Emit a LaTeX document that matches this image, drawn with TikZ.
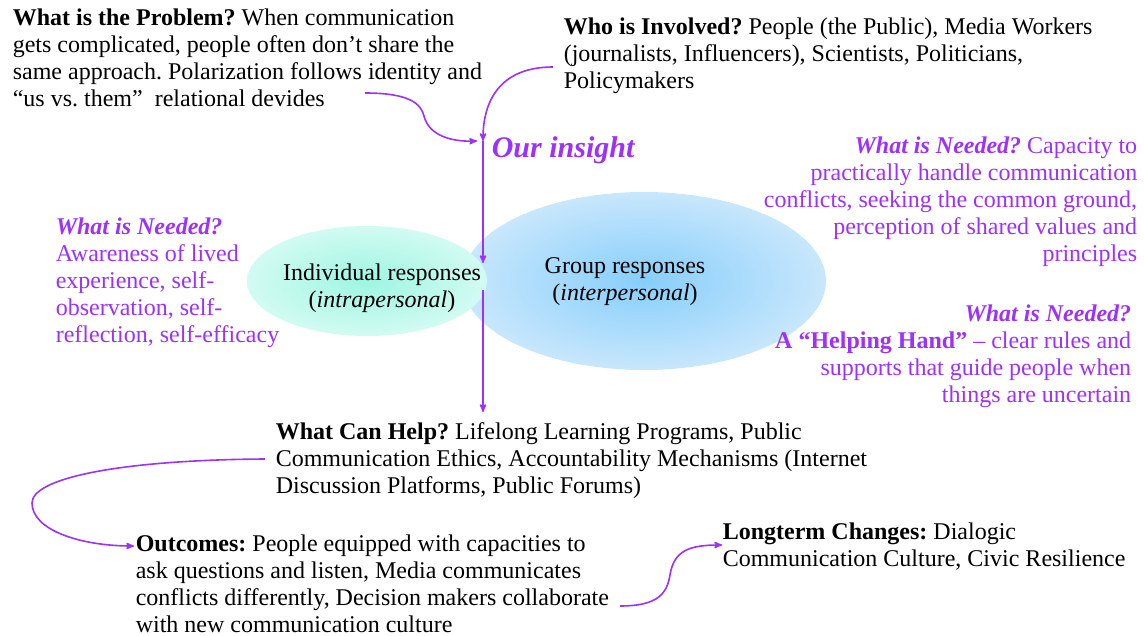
\documentclass[tikz,border=0pt]{standalone}
\usepackage{fontspec}
\setmainfont{Liberation Serif}
\usetikzlibrary{arrows,positioning,shapes.geometric}
\definecolor{needed}{RGB}{155,50,255}
\frenchspacing

\begin{document}
\begin{tikzpicture}[x=1pt, y=-1pt, >=stealth', line width=1.6pt]
\tikzstyle{every node}=[inner sep=0pt, font=\fontsize{24}{27}\selectfont]
\tikzstyle{block}=[align=left, anchor=north west, text=black]
\tikzstyle{need}=[align=right, anchor=north east, text=needed]
\tikzstyle{flow}=[->, draw=needed]
\path[use as bounding box] (0,0) rectangle (1144,636);

% the two response circles
\node[ellipse, minimum width=364pt, minimum height=178pt, shading=radial,
      inner color={rgb,255:red,135;green,206;blue,251},
      outer color={rgb,255:red,200;green,231;blue,252}] (group) at (644,281) {};
\node[ellipse, minimum width=240pt, minimum height=110pt, shading=radial,
      inner color={rgb,255:red,158;green,245;blue,226},
      outer color={rgb,255:red,210;green,251;blue,242}] (indiv) at (367,281) {};
\node[align=center] (indivtext) at (382,288) {Individual responses\\(\textit{intrapersonal})};
\node[align=center] (grouptext) at (625,282) {Group responses\\(\textit{interpersonal})};

% text blocks
\node[block] (problem) at (12,8) {\textbf{What is the Problem?} When communication\\
  gets complicated, people often don't share the\\
  same approach. Polarization follows identity and\\
  ``us vs.\ them''\ \ relational devides};
\node[block] (who) at (563,17) {\textbf{Who is Involved?} People (the Public), Media Workers\\
  (journalists, Influencers), Scientists, Politicians,\\
  Policymakers};
\node[block, text=needed, font=\fontsize{30}{30}\selectfont\bfseries\itshape] (insighttext) at (491,136) {Our insight};
\node[need] (needgroup) at (1138,136) {\textbf{\textit{What is Needed?}} Capacity to\\
  practically handle communication\\
  conflicts, seeking the common ground,\\
  perception of shared values and\\
  principles};
\node[block, text=needed] (needindiv) at (55,217) {\textbf{\textit{What is Needed?}}\\
  Awareness of lived\\
  experience, self-\\
  observation, self-\\
  reflection, self-efficacy};
\node[need] (needhand) at (1132,304) {\textbf{\textit{What is Needed?}}\\
  \textbf{A ``Helping Hand''} -- clear rules and\\
  supports that guide people when\\
  things are uncertain};
\node[block] (help) at (275,422) {\textbf{What Can Help?} Lifelong Learning Programs, Public\\
  Communication Ethics, Accountability Mechanisms (Internet\\
  Discussion Platforms, Public Forums)};
\node[block] (outcomes) at (135,534) {\textbf{Outcomes:} People equipped with capacities to\\
  ask questions and listen, Media communicates\\
  conflicts differently, Decision makers collaborate\\
  with new communication culture};
\node[block] (longterm) at (722,522) {\textbf{Longterm Changes:} Dialogic\\
  Communication Culture, Civic Resilience};

% where the arrows meet and pass the circles
\coordinate (insight) at (483,141);
\coordinate (probend) at (365,93);
\coordinate (whoend) at (553,67);
\coordinate (inside) at (483,263);
\coordinate (outside) at (483,290);
\coordinate (helpend) at (265,459);
\coordinate (outend) at (620,606);

\draw[flow] (probend) .. controls (410,93) and (421,104) .. (424,116)
   .. controls (429,136) and (452,142) .. (insight -| 477,0);
\draw[flow] (whoend) .. controls (505,67) and (483,95) .. (insight);
\draw[flow] (insight) -- (inside);
\draw[flow, shorten >=10pt] (outside) -- (outside |- help.north);
\draw[flow, shorten >=1pt] (helpend) .. controls (120,460) and (32,478) .. (32,503)
   .. controls (32,530) and (80,546) .. (outcomes.west |- 0,546);
\draw[flow] (outend) .. controls (660,606) and (667,592) .. (670,575)
   .. controls (674,550) and (690,545) .. (longterm.west |- 0,545);
\end{tikzpicture}
\end{document}
